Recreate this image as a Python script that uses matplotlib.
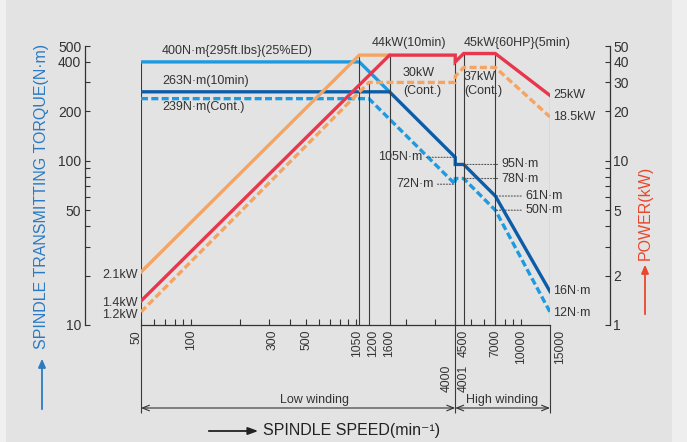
import matplotlib
matplotlib.use("Agg")
import matplotlib.pyplot as plt
from matplotlib.ticker import FixedLocator, FixedFormatter, NullLocator, NullFormatter
from matplotlib.patches import FancyArrowPatch, Rectangle

plt.rcParams['font.family'] = ['Liberation Sans', 'DejaVu Sans']

# ---------------- data ----------------
# torque (N·m) vs spindle speed (min^-1)
t25_speed = [50, 1050, 1600]
t25_val = [400, 400, 263]
t10_speed = [50, 1600, 4000, 4001, 4500, 7000, 15000]
t10_val = [263, 263, 105, 95, 95, 61, 16]
tcont_speed = [50, 1200, 4000, 4001, 4500, 7000, 15000]
tcont_val = [239, 239, 72, 78, 78, 50, 12]

# power (kW) vs spindle speed
p25_speed = [50, 1050, 1600]
p25_val = [2.1, 44, 44]
p10_speed = [50, 1600, 4000, 4001, 4500, 7000, 15000]
p10_val = [1.4, 44, 44, 40, 45, 45, 25]
pcont_speed = [50, 1200, 4000, 4001, 4500, 7000, 15000]
pcont_val = [1.2, 30, 30, 32.7, 37, 37, 18.5]

x_tick_labels = ['50', '100', '300', '500', '1050', '1200', '1600', '4500', '7000', '10000', '15000']
x_tick_values = [50, 100, 300, 500, 1050, 1200, 1600, 4500, 7000, 10000, 15000]
torque_ticks = [10, 20, 30, 40, 50, 60, 70, 80, 90, 100, 200, 300, 400, 500]
torque_tick_labels = ['10', '', '', '', '50', '', '', '', '', '100', '200', '', '400', '500']
power_ticks = [1, 2, 3, 4, 5, 6, 7, 8, 9, 10, 20, 30, 40, 50]
power_tick_labels = ['1', '2', '', '', '5', '', '', '', '', '10', '20', '30', '40', '50']

# ---------------- style ----------------
LB = '#1e9be0'
DB = '#0d5ca8'
RED = '#e8374c'
ORG = '#f5a462'
TXT = '#333333'
W, H = 687, 442

def P(x, y):
    return (x / W, 1 - y / H)

fig = plt.figure(figsize=(W / 100, H / 100), dpi=100)
fig.patch.set_facecolor('#e3e3e3')
fig.add_artist(Rectangle((0, 0), 6 / W, 1, transform=fig.transFigure, facecolor='#f0f0f0', edgecolor='none', zorder=0))
fig.add_artist(Rectangle((672 / W, 0), 15 / W, 1, transform=fig.transFigure, facecolor='#eeeeee', edgecolor='none', zorder=0))

ax = fig.add_axes([141 / W, 1 - 325 / H, (550 - 141) / W, (325 - 46) / H])
ax.set_facecolor('none')
ax.set_xscale('log')
ax.set_yscale('log')
ax.set_xlim(50, 15000)
ax.set_ylim(10, 500)

ax2 = ax.twinx()
ax2.set_yscale('log')
ax2.set_ylim(1, 50)

for s in ['top', 'right']:
    ax.spines[s].set_visible(False)
ax.spines['left'].set_position(('outward', 40))
for s in ['top', 'left', 'bottom']:
    ax2.spines[s].set_visible(False)
ax2.spines['right'].set_position(('outward', 43.2))
for a in (ax, ax2):
    for s in a.spines.values():
        s.set_color(TXT)
        s.set_linewidth(0.9)

# x ticks (log minor style, pointing in)
xt = [v * m for m in (10, 100, 1000) for v in range(1, 10)] + [10000]
xt = [v for v in xt if 50 <= v <= 15000]
ax.xaxis.set_major_locator(FixedLocator(xt))
ax.xaxis.set_major_formatter(NullFormatter())
ax.xaxis.set_minor_locator(NullLocator())
ax.tick_params(axis='x', direction='in', length=4, width=0.8, colors=TXT)

ax.yaxis.set_major_locator(FixedLocator(torque_ticks))
ax.yaxis.set_major_formatter(FixedFormatter(torque_tick_labels))
ax.yaxis.set_minor_locator(NullLocator())
ax.tick_params(axis='y', direction='in', length=3.5, width=0.8, pad=3, labelsize=10, colors=TXT)

ax2.yaxis.set_major_locator(FixedLocator(power_ticks))
ax2.yaxis.set_major_formatter(FixedFormatter(power_tick_labels))
ax2.yaxis.set_minor_locator(NullLocator())
ax2.tick_params(axis='y', direction='in', length=3.5, width=0.8, pad=2.5, labelsize=10, colors=TXT)

# ---------------- vertical guide lines ----------------
VC = '#3a3a3a'
ax.vlines(t25_speed[0], 10, t25_val[0], color=VC, lw=0.8, zorder=1)
guides = [(p25_speed[1], p25_val[1]), (pcont_speed[1], pcont_val[1]), (p10_speed[1], p10_val[1]),
          (p10_speed[2], p10_val[2]), (p10_speed[4], p10_val[4]), (p10_speed[5], p10_val[5]),
          (p10_speed[6], p10_val[6])]
for sp, pv in guides:
    ax2.vlines(sp, 1, pv, color=VC, lw=0.8, zorder=1)
ax.vlines([50, 4000, 15000], -0.315, 0, color=VC, lw=0.8,
          transform=ax.get_xaxis_transform(), clip_on=False)

# ---------------- curves ----------------
LW = 2.4
ax.plot(t25_speed, t25_val, color=LB, lw=LW, solid_capstyle='butt', zorder=3)
ax.plot(tcont_speed, tcont_val, color=LB, lw=LW, ls=(0, (2.1, 1.0)), zorder=3)
ax.plot(t10_speed, t10_val, color=DB, lw=LW, solid_joinstyle='miter', zorder=4)

ax2.plot(pcont_speed, pcont_val, color=ORG, lw=LW, ls=(0, (2.1, 1.0)), zorder=3)
ax2.plot(p25_speed, p25_val, color=ORG, lw=LW, zorder=3)
ax2.plot(p10_speed, p10_val, color=RED, lw=LW, solid_joinstyle='miter', zorder=4)

# ---------------- x tick labels ----------------
xoff = {'50': -3.4, '300': 2.0, '1050': -1.4, '1200': 2.9, '15000': 7.0}
for v, lbl in zip(x_tick_values, x_tick_labels):
    ax.annotate(lbl, xy=(v, 0), xycoords=('data', 'axes fraction'),
                xytext=(xoff.get(lbl, 0), -3.6), textcoords='offset points',
                rotation=90, ha='center', va='top', fontsize=8.7, color=TXT)
ax.annotate('4000', xy=(4000, 0), xycoords=('data', 'axes fraction'), xytext=(-5.8, -48),
            textcoords='offset points', rotation=90, ha='center', va='bottom', fontsize=8.7, color=TXT)
ax.annotate('4001', xy=(4001, 0), xycoords=('data', 'axes fraction'), xytext=(5.8, -48),
            textcoords='offset points', rotation=90, ha='center', va='bottom', fontsize=8.7, color=TXT)

# winding arrows
ax.annotate('', xy=(50, -0.2975), xytext=(4000, -0.2975), xycoords=('data', 'axes fraction'),
            textcoords=('data', 'axes fraction'),
            arrowprops=dict(arrowstyle='<->,head_length=0.5,head_width=0.2', color=TXT, lw=0.8,
                            shrinkA=0, shrinkB=0))
ax.annotate('', xy=(4000, -0.2975), xytext=(15000, -0.2975), xycoords=('data', 'axes fraction'),
            textcoords=('data', 'axes fraction'),
            arrowprops=dict(arrowstyle='<->,head_length=0.5,head_width=0.2', color=TXT, lw=0.8,
                            shrinkA=0, shrinkB=0))
fig.text(*P(315, 400), 'Low winding', ha='center', va='center', fontsize=9, color=TXT)
fig.text(*P(502, 400), 'High winding', ha='center', va='center', fontsize=9, color=TXT)

# ---------------- curve labels ----------------
FS = 9
fig.text(*P(162, 51), '400N·m{295ft.lbs}(25%ED)', ha='left', va='center', fontsize=FS, color=TXT)
fig.text(*P(162, 81), '263N·m(10min)', ha='left', va='center', fontsize=FS, color=TXT)
fig.text(*P(162, 107), '239N·m(Cont.)', ha='left', va='center', fontsize=FS, color=TXT)
fig.text(*P(372, 43), '44kW(10min)', ha='left', va='center', fontsize=FS, color=TXT)
fig.text(*P(464, 43), '45kW{60HP}(5min)', ha='left', va='center', fontsize=FS, color=TXT)
fig.text(*P(403, 73), '30kW', ha='left', va='center', fontsize=FS, color=TXT)
fig.text(*P(403, 91), '(Cont.)', ha='left', va='center', fontsize=FS, color=TXT)
fig.text(*P(464, 77), '37kW', ha='left', va='center', fontsize=FS, color=TXT)
fig.text(*P(464, 91), '(Cont.)', ha='left', va='center', fontsize=FS, color=TXT)

lead = dict(arrowstyle='-', linestyle=':', color='#555555', lw=0.8, shrinkA=1, shrinkB=0)

def tlabel(a, txt, x, y, dx, dy=0, ha='left', leader=False):
    a.annotate(txt, xy=(x, y), xytext=(dx, dy), textcoords='offset points',
               ha=ha, va='center', fontsize=FS, color=TXT,
               arrowprops=lead if leader else None)

tlabel(ax, '105N·m', t10_speed[2], t10_val[2], -23.8, ha='right', leader=True)
tlabel(ax, '72N·m', tcont_speed[2], tcont_val[2], -15.8, ha='right', leader=True)
tlabel(ax, '95N·m', t10_speed[4], t10_val[4], 27.4, leader=True)
tlabel(ax, '78N·m', tcont_speed[4], tcont_val[4], 27.4, leader=True)
tlabel(ax, '61N·m', t10_speed[5], t10_val[5], 21.6, leader=True)
tlabel(ax, '50N·m', tcont_speed[5], tcont_val[5], 21.6, leader=True)
tlabel(ax, '16N·m', t10_speed[6], t10_val[6], 2.2)
tlabel(ax, '12N·m', tcont_speed[6], tcont_val[6], 2.2, dy=-0.7)
tlabel(ax2, '25kW', p10_speed[6], p10_val[6], 2.2)
tlabel(ax2, '18.5kW', pcont_speed[6], pcont_val[6], 2.2)
tlabel(ax2, '2.1kW', p25_speed[0], p25_val[0], -2.5, dy=-2, ha='right')
tlabel(ax2, '1.4kW', p10_speed[0], p10_val[0], -2.5, dy=-1.5, ha='right')
tlabel(ax2, '1.2kW', pcont_speed[0], pcont_val[0], -2.5, dy=-2.2, ha='right')

# ---------------- axis titles ----------------
BLUE_T = '#2a7bc4'
RED_T = '#e8472c'
fig.text(*P(42, 196), 'SPINDLE TRANSMITTING TORQUE(N·m)', rotation=90, ha='center', va='center',
         fontsize=11.5, color=BLUE_T)
fig.add_artist(FancyArrowPatch(P(42, 412), P(42, 356), transform=fig.transFigure,
                               arrowstyle='-|>,head_length=5,head_width=2.2', color=BLUE_T, lw=1.3))
fig.text(*P(645, 213), 'POWER(kW)', rotation=90, ha='center', va='center', fontsize=11.5, color=RED_T)
fig.add_artist(FancyArrowPatch(P(645, 317), P(645, 262), transform=fig.transFigure,
                               arrowstyle='-|>,head_length=5,head_width=2.2', color=RED_T, lw=1.3))
fig.text(*P(263, 431), 'SPINDLE SPEED(min⁻¹)', ha='left', va='center', fontsize=11.5, color='#222222')
fig.add_artist(FancyArrowPatch(P(206, 431), P(261, 431), transform=fig.transFigure,
                               arrowstyle='-|>,head_length=6,head_width=2.2', color='#222222', lw=1.3))

fig.savefig('out.png', dpi=100, facecolor=fig.get_facecolor())
